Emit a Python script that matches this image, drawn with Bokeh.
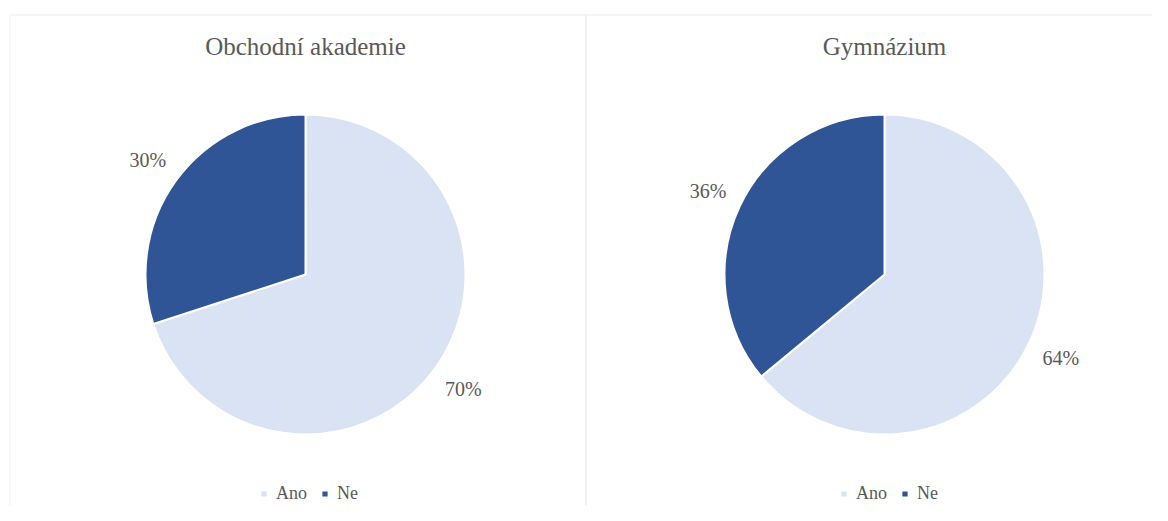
import numpy as np
from bokeh.plotting import figure
from bokeh.models import Range1d, BoxAnnotation, Legend, LegendItem, ColumnDataSource
from bokeh.core.properties import value
from bokeh.embed import file_html
from bokeh.resources import INLINE

# ---- data ----
categories = ["Ano", "Ne"]
titles = ["Obchodní akademie", "Gymnázium"]
oa_values = [70, 30]
gym_values = [64, 36]
colors = ["#dae3f3", "#2f5597"]

FONT = value("Liberation Serif")
TEXT_COLOR = "#595959"
BORDER = "#e2e2e2"

W, H = 1152, 505
PAGE_H = 521
p = figure(width=W, height=H, x_range=Range1d(0, W), y_range=Range1d(PAGE_H - H, PAGE_H),
           output_backend="svg", toolbar_location=None,
           x_axis_type=None, y_axis_type=None, min_border=0)
p.outline_line_color = None
p.grid.visible = False
p.background_fill_color = "white"
p.border_fill_color = "white"

# panel frames
top = PAGE_H - 14.5
p.add_layout(BoxAnnotation(left=9.3, right=585.5, top=top, bottom=-200,
                           fill_alpha=0, line_color=BORDER, line_width=2))
p.add_layout(BoxAnnotation(left=585.5, right=1400, top=top, bottom=-200,
                           fill_alpha=0, line_color=BORDER, line_width=2))

R = 160
LABEL_R = 195
panels = [
    (oa_values, 305, PAGE_H - 274, titles[0], 259),
    (gym_values, 884, PAGE_H - 274, titles[1], 839),
]

for values, cx, cy, title, leg_x in panels:
    vals = np.array(values, dtype=float)
    frac = vals / vals.sum()
    cum = np.cumsum(frac)
    start = cum - frac
    mid = np.pi / 2 - 2 * np.pi * (start + frac / 2)
    src = ColumnDataSource(dict(
        cat=categories,
        start=np.pi / 2 - 2 * np.pi * start,
        end=np.pi / 2 - 2 * np.pi * cum,
        color=colors,
        lx=cx + LABEL_R * np.cos(mid),
        ly=cy + LABEL_R * np.sin(mid),
        lab=[f"{v:.0f}%" for v in values],
    ))
    r = p.wedge(x=cx, y=cy, radius=R, start_angle="start", end_angle="end",
                direction="clock", fill_color="color", line_color="white",
                line_width=2, source=src)
    p.text(x="lx", y="ly", text="lab", source=src, text_font=FONT,
           text_font_size="20px", text_color=TEXT_COLOR,
           text_align="center", text_baseline="middle")
    p.text(x=[cx], y=[PAGE_H - 45.5], text=[title], text_font=FONT,
           text_font_size="25px", text_color=TEXT_COLOR,
           text_align="center", text_baseline="middle")
    items = [LegendItem(label=categories[i], renderers=[r], index=i) for i in range(len(categories))]
    leg = Legend(items=items, orientation="horizontal", location=(leg_x, 1),
                 glyph_width=9, glyph_height=9, label_standoff=8, spacing=13,
                 padding=0, margin=0, border_line_color=None,
                 background_fill_alpha=0,
                 label_text_font="Liberation Serif", label_text_font_size="18px",
                 label_text_color=TEXT_COLOR)
    p.add_layout(leg)

open("out.html", "w").write(file_html(p, INLINE))
